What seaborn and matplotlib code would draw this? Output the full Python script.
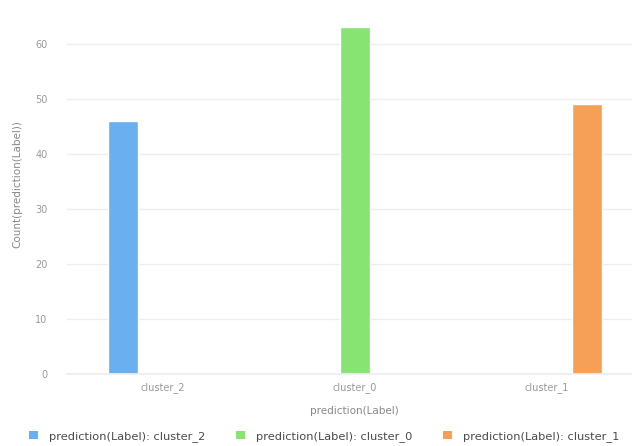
import matplotlib
matplotlib.use("Agg")
import matplotlib.pyplot as plt
from matplotlib.patches import Patch
import pandas as pd
import seaborn as sns

# Cluster counts per predicted label
categories = ["cluster_2", "cluster_0", "cluster_1"]
counts = [46, 63, 49]
series_labels = ["prediction(Label): cluster_2",
                 "prediction(Label): cluster_0",
                 "prediction(Label): cluster_1"]
colors = ["#6AAFEF", "#87E472", "#F6A057"]
y_ticks = [0, 10, 20, 30, 40, 50, 60]

sns.set_theme(style="white")
plt.rcParams["font.family"] = ["DejaVu Sans"]

df = pd.DataFrame({"label": categories, "count": counts, "series": categories})

fig = plt.figure(figsize=(6.32, 4.46), dpi=100)
ax = fig.add_axes([0.106, 0.1614, 0.911, 0.8027])

sns.barplot(data=df, x="label", y="count", hue="series",
            order=categories, hue_order=categories,
            palette=colors, width=0.63, gap=0.26, dodge=True,
            legend=False, ax=ax, saturation=1)

ax.set_xlim(-0.5, 2.5)
ax.set_ylim(0, 65)
ax.set_yticks(y_ticks)
ax.set_yticklabels([str(v) for v in y_ticks])
ax.yaxis.grid(True, color="#EEEEEE", linewidth=1)
ax.set_axisbelow(True)
for side in ["top", "right", "left"]:
    ax.spines[side].set_visible(False)
ax.spines["bottom"].set_color("#EEEEEE")
ax.tick_params(axis="y", length=0, pad=14, labelsize=7, labelcolor="#999999")
ax.tick_params(axis="x", length=0, pad=6, labelsize=7, labelcolor="#999999")

ax.set_xlabel("prediction(Label)", fontsize=7.5, color="#888888")
ax.xaxis.set_label_coords(0.5, -0.088)
ax.set_ylabel("Count(prediction(Label))", fontsize=7.5, color="#888888")
ax.yaxis.set_label_coords(-0.078, 0.53)

handles = [Patch(facecolor=c, edgecolor="none", label=l)
           for c, l in zip(colors, series_labels)]
fig.legend(handles=handles, loc="center", bbox_to_anchor=(0.513, 0.022),
           ncol=3, frameon=False, fontsize=8.2, labelcolor="#4A4A4A",
           handlelength=0.75, handleheight=0.75, handletextpad=1.0,
           columnspacing=2.7)

fig.savefig("out.png", dpi=100)
